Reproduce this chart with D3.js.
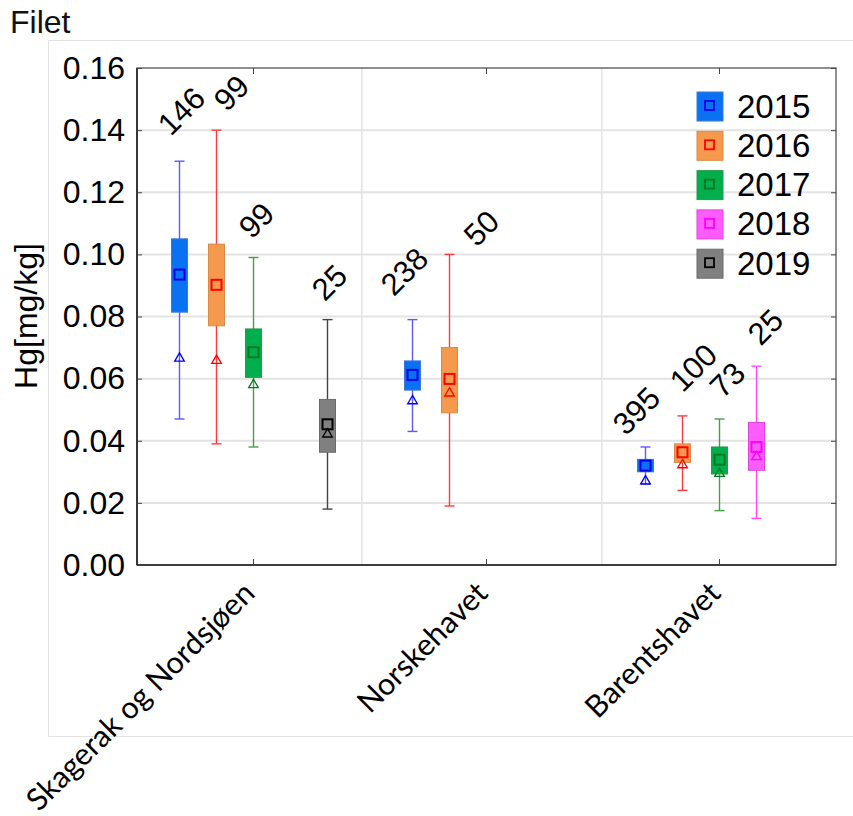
<!DOCTYPE html>
<html><head><meta charset="utf-8">
<script src="https://cdn.jsdelivr.net/npm/d3@7"></script>
<style>body{margin:0;background:#fff}svg{display:block}</style>
</head><body><svg id="c" width="853" height="816"></svg>
<script>
const categories = ["Skagerak og Nordsjøen", "Norskehavet", "Barentshavet"];
const years = ["2015", "2016", "2017", "2018", "2019"];
const yTicks = [0, 0.02, 0.04, 0.06, 0.08, 0.10, 0.12, 0.14, 0.16];
// per year, values per category (null = no data)
const whiskerHigh = {
  "2015": [0.130, 0.079, 0.038], "2016": [0.140, 0.100, 0.048],
  "2017": [0.099, null, 0.047], "2018": [null, null, 0.064], "2019": [0.079, null, null]};
const q3 = {
  "2015": [0.105, 0.0657, 0.034], "2016": [0.1033, 0.070, 0.039],
  "2017": [0.076, null, 0.038], "2018": [null, null, 0.0459], "2019": [0.0533, null, null]};
const median = {
  "2015": [0.0935, 0.0612, 0.032], "2016": [0.0902, 0.0599, 0.0363],
  "2017": [0.0685, null, 0.0339], "2018": [null, null, 0.038], "2019": [0.0453, null, null]};
const q1 = {
  "2015": [0.0814, 0.0563, 0.030], "2016": [0.077, 0.049, 0.033],
  "2017": [0.0604, null, 0.0293], "2018": [null, null, 0.0305], "2019": [0.0363, null, null]};
const whiskerLow = {
  "2015": [0.047, 0.043, 0.026], "2016": [0.039, 0.019, 0.024],
  "2017": [0.038, null, 0.0175], "2018": [null, null, 0.015], "2019": [0.018, null, null]};
const triangleVal = {
  "2015": [0.0665, 0.0528, 0.027], "2016": [0.0658, 0.0553, 0.0322],
  "2017": [0.058, null, 0.0294], "2018": [null, null, 0.0348], "2019": [0.0421, null, null]};
const counts = {
  "2015": [146, 238, 395], "2016": [99, 50, 100],
  "2017": [99, null, 73], "2018": [null, null, 25], "2019": [25, null, null]};

// layout (label nudges relative to whisker top, px)
const labelNudge = {
  "2015": [[2,-50],[-8,-48],[-9,-36]], "2016": [[15,-37],[32,-26],[11,-48]],
  "2017": [[3,-37],null,[8,-39]], "2018": [null,null,[9,-39]], "2019": [[2,-37],null,null]};
const styles = {
  "2015": {fill:"#0a72f2", edge:"#3d78d8", whisker:"#5a5aff", mark:"#0000ee"},
  "2016": {fill:"#f59a4c", edge:"#d98a48", whisker:"#ff3c3c", mark:"#ff0000"},
  "2017": {fill:"#00ae4e", edge:"#2a9a48", whisker:"#44a044", mark:"#007a1e"},
  "2018": {fill:"#ff5cff", edge:"#dd44dd", whisker:"#ff48ff", mark:"#ff00ff"},
  "2019": {fill:"#808080", edge:"#6a6a6a", whisker:"#444444", mark:"#000000"}
};

const svg = d3.select("#c");
const L = 137, R = 836, T = 68, B = 565;
const y = d3.scaleLinear().domain([0, 0.16]).range([B, T]);
const x = d3.scaleBand().domain(categories).range([L, R]);
const catUnit = d3.scaleLinear().domain([0, 3]).range([L, R]);
const xin = d3.scaleBand().domain(years).range([-92.5, 92.5]);
const bw = 16, cap = 10;

// outer frame
svg.append("path").attr("d", `M853,40.5H48.5V736.5H853`).attr("fill","none").attr("stroke","#e2e2e2").attr("stroke-width",1);

// title
svg.append("text").attr("x", 10).attr("y", 33).text("Filet")
  .attr("font-family","Liberation Sans, Arial, sans-serif").attr("font-size",32).attr("fill","#111");

// gridlines
svg.append("g").selectAll("line").data(yTicks.slice(1, -1)).join("line")
  .attr("x1", L).attr("x2", R).attr("y1", d => y(d)).attr("y2", d => y(d))
  .attr("stroke", "#e3e3e3").attr("stroke-width", 2);
svg.append("g").selectAll("line").data([0.965, 1.995]).join("line")
  .attr("x1", d => catUnit(d)).attr("x2", d => catUnit(d)).attr("y1", T).attr("y2", B)
  .attr("stroke", "#e3e3e3").attr("stroke-width", 1.5);

// axes frame
svg.append("rect").attr("x", L).attr("y", T).attr("width", R - L).attr("height", B - T)
  .attr("fill", "none").attr("stroke", "#555").attr("stroke-width", 1.3);
svg.append("line").attr("x1", L).attr("x2", L).attr("y1", T).attr("y2", B).attr("stroke", "#222").attr("stroke-width", 1.6);
svg.append("line").attr("x1", L).attr("x2", R).attr("y1", B).attr("y2", B).attr("stroke", "#222").attr("stroke-width", 1.6);

// y axis
const yAxis = svg.append("g").attr("transform", `translate(${L},0)`)
  .call(d3.axisLeft(y).tickValues(yTicks).tickFormat(d3.format(".2f")).tickSizeInner(-5).tickSizeOuter(0).tickPadding(12));
yAxis.select(".domain").remove();
yAxis.selectAll("line").attr("stroke", "#444");
yAxis.selectAll("text").attr("font-family", "Liberation Sans, Arial, sans-serif").attr("font-size", 32).attr("fill", "#000");
const yAxisR = svg.append("g").attr("transform", `translate(${R},0)`)
  .call(d3.axisRight(y).tickValues(yTicks).tickSizeInner(-5).tickSizeOuter(0).tickFormat(""));
yAxisR.select(".domain").remove();
yAxisR.selectAll("line").attr("stroke", "#444");

// x axis
const xAxis = svg.append("g").attr("transform", `translate(0,${B})`)
  .call(d3.axisBottom(x).tickSizeInner(-6).tickSizeOuter(0).tickPadding(0));
xAxis.select(".domain").remove();
xAxis.selectAll("line").attr("stroke", "#444");
xAxis.selectAll("text")
  .attr("font-family", "Lato, Carlito, sans-serif").attr("font-size", 30.5).attr("fill", "#000")
  .attr("text-anchor", "end").attr("dy", null).attr("y", 0)
  .attr("transform", "translate(3,30) rotate(-45)");
const xAxisT = svg.append("g").attr("transform", `translate(0,${T})`)
  .call(d3.axisTop(x).tickSizeInner(-6).tickSizeOuter(0).tickFormat(""));
xAxisT.select(".domain").remove();
xAxisT.selectAll("line").attr("stroke", "#444");

// y label
svg.append("text").attr("transform", "translate(37,316) rotate(-90)").attr("text-anchor", "middle")
  .attr("font-family", "Liberation Sans, Arial, sans-serif").attr("font-size", 32).attr("fill", "#000").text("Hg[mg/kg]");

// boxes
const items = [];
years.forEach(yr => categories.forEach((c, i) => {
  if (whiskerHigh[yr][i] == null) return;
  items.push({yr, i, cx: x(c) + x.bandwidth() / 2 + xin(yr) + xin.bandwidth() / 2,
    hi: whiskerHigh[yr][i], q3: q3[yr][i], med: median[yr][i], q1: q1[yr][i], lo: whiskerLow[yr][i],
    tri: triangleVal[yr][i], n: counts[yr][i], nudge: labelNudge[yr][i]});
}));
const g = svg.append("g");
items.forEach(d => {
  const s = styles[d.yr];
  const gg = g.append("g");
  gg.append("line").attr("x1", d.cx).attr("x2", d.cx).attr("y1", y(d.hi)).attr("y2", y(d.lo)).attr("stroke", s.whisker).attr("stroke-width", 1.4);
  [d.hi, d.lo].forEach(v => gg.append("line").attr("x1", d.cx - cap / 2).attr("x2", d.cx + cap / 2).attr("y1", y(v)).attr("y2", y(v)).attr("stroke", s.whisker).attr("stroke-width", 1.4));
  gg.append("rect").attr("x", d.cx - bw / 2).attr("width", bw).attr("y", y(d.q3)).attr("height", y(d.q1) - y(d.q3))
    .attr("fill", s.fill).attr("stroke", s.edge).attr("stroke-width", 1);
  gg.append("path").attr("d", d3.symbol(d3.symbolTriangle, 40)()).attr("transform", `translate(${d.cx},${y(d.tri)})`)
    .attr("fill", "none").attr("stroke", s.mark).attr("stroke-width", 1.3);
  gg.append("rect").attr("x", d.cx - 5).attr("y", y(d.med) - 5).attr("width", 10).attr("height", 10)
    .attr("fill", "none").attr("stroke", s.mark).attr("stroke-width", 2);
  gg.append("text").attr("transform", `translate(${d.cx + d.nudge[0]},${y(d.hi) + d.nudge[1]}) rotate(-45)`)
    .attr("text-anchor", "middle").attr("dominant-baseline", "central")
    .attr("font-family", "Liberation Sans, Arial, sans-serif").attr("font-size", 31).attr("fill", "#000").text(d.n);
});

// legend
const leg = svg.append("g");
years.forEach((yr, k) => {
  const s = styles[yr];
  const cy = 106 + k * 39.3;
  leg.append("rect").attr("x", 697).attr("y", cy - 14).attr("width", 26).attr("height", 29)
    .attr("fill", s.fill).attr("stroke", s.edge).attr("stroke-width", 1);
  leg.append("rect").attr("x", 705).attr("y", cy - 5).attr("width", 9).attr("height", 9)
    .attr("fill", "none").attr("stroke", s.mark).attr("stroke-width", 1.8);
  leg.append("text").attr("x", 737).attr("y", cy).attr("dominant-baseline", "central")
    .attr("font-family", "Liberation Sans, Arial, sans-serif").attr("font-size", 33).attr("fill", "#000").text(yr);
});
</script></body></html>
